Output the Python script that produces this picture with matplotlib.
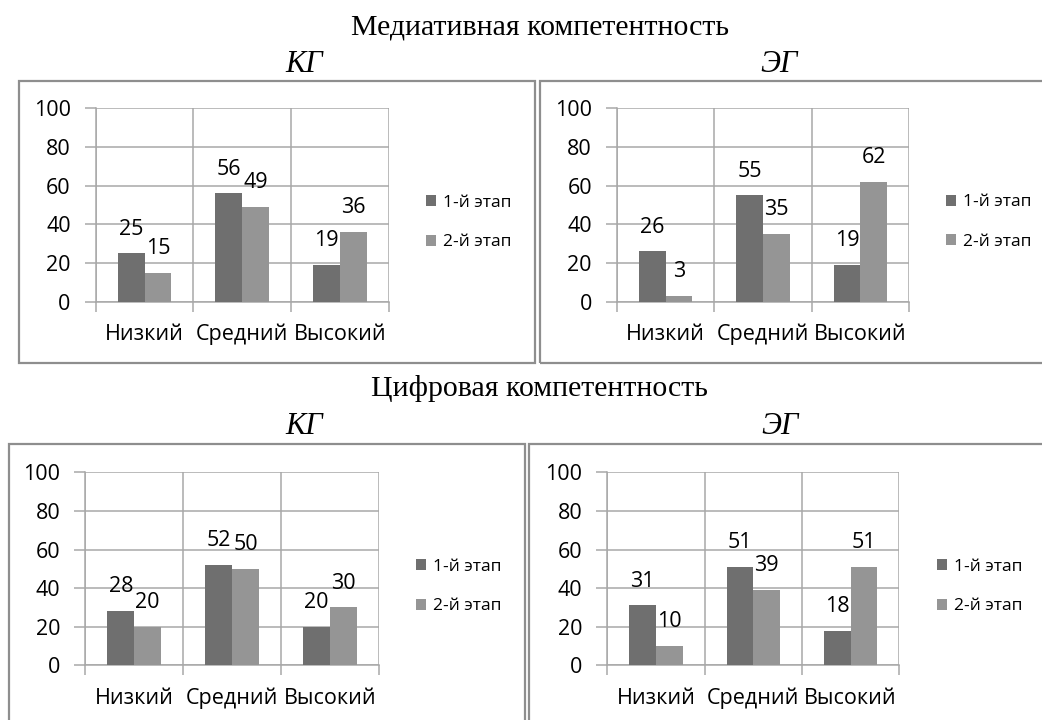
import matplotlib
matplotlib.use('Agg')
import matplotlib.pyplot as plt
from matplotlib.patches import Rectangle
import numpy as np

plt.rcParams['font.family'] = ['Open Sans', 'DejaVu Sans']

W, H = 1042, 720

categories = ['Низкий', 'Средний', 'Высокий']
series_names = ['1-й этап', '2-й этап']
y_ticks = [0, 20, 40, 60, 80, 100]

med_kg_stage1 = [25, 56, 19]
med_kg_stage2 = [15, 49, 36]
med_eg_stage1 = [26, 55, 19]
med_eg_stage2 = [3, 35, 62]
dig_kg_stage1 = [28, 52, 20]
dig_kg_stage2 = [20, 50, 30]
dig_eg_stage1 = [31, 51, 18]
dig_eg_stage2 = [10, 39, 51]

title_top = 'Медиативная компетентность'
title_bottom = 'Цифровая компетентность'
group_kg = 'КГ'
group_eg = 'ЭГ'

DARK = '#6f6f6f'
LIGHT = '#959595'
GRID = '#a8a8a8'
FRAME = '#8e8e8e'
FS = 15.5

fig = plt.figure(figsize=(W / 100, H / 100), dpi=100)
fig.patch.set_facecolor('white')


def fx(x):
    return x / W


def fy(y):
    return 1 - y / H


def frame(l, t, r, b):
    fig.patches.append(Rectangle((fx(l), fy(b)), fx(r) - fx(l), fy(t) - fy(b),
                                 transform=fig.transFigure, fill=False,
                                 edgecolor=FRAME, linewidth=1.6, clip_on=False))


def panel(box, legend_xy, s1, s2):
    l, r, t, b = box
    ax = fig.add_axes([fx(l), fy(b), fx(r) - fx(l), fy(t) - fy(b)])
    x = np.arange(len(categories))
    w = 0.275
    b1 = ax.bar(x - w / 2, s1, w, color=DARK, zorder=3)
    b2 = ax.bar(x + w / 2, s2, w, color=LIGHT, zorder=3)
    for bars, vals in ((b1, s1), (b2, s2)):
        for rect, v in zip(bars, vals):
            ax.annotate(str(v), (rect.get_x() + rect.get_width() / 2, v),
                        xytext=(0, 17.5), textcoords='offset points',
                        ha='center', va='center', fontsize=FS, color='black',
                        zorder=4)
    ax.set_xlim(-0.5, len(categories) - 0.5)
    ax.set_ylim(0, 100)
    ax.set_yticks(y_ticks)
    ax.set_xticks(np.arange(len(categories) + 1) - 0.5)
    ax.set_xticklabels([])
    ax.set_xticks(x, minor=True)
    ax.set_xticklabels(categories, minor=True)
    ax.tick_params(axis='x', which='major', length=7, width=1.1, color=GRID)
    ax.tick_params(axis='x', which='minor', length=0, pad=16.0, labelsize=FS)
    ax.tick_params(axis='y', length=8, width=1.1, color=GRID, pad=10,
                   labelsize=FS)
    ax.grid(True, which='major', color=GRID, linewidth=1.1, zorder=0)
    ax.set_axisbelow(True)
    for side in ('top', 'right'):
        ax.spines[side].set_visible(False)
    for side in ('left', 'bottom'):
        ax.spines[side].set_color(GRID)
        ax.spines[side].set_linewidth(1.1)
    ax.set_facecolor('white')
    lx, ly = legend_xy
    ax.legend([b1, b2], series_names, loc='center left',
              bbox_to_anchor=(fx(lx), fy(ly)), bbox_transform=fig.transFigure,
              frameon=False, fontsize=12.5, handlelength=0.6, handleheight=0.6,
              handletextpad=0.4, labelspacing=1.35, borderpad=0,
              borderaxespad=0)
    return ax


# frames
frame(19, 81, 535, 363)
frame(540, 81, 1060, 363)
frame(8.6, 444, 524.7, 740)
frame(529.3, 444, 1060, 740)

panel((95.7, 389, 108.3, 301.7), (426, 222.5), med_kg_stage1, med_kg_stage2)
panel((617, 909, 108.3, 301.7), (946, 222), med_eg_stage1, med_eg_stage2)
panel((85.4, 378.8, 472.3, 665.3), (416, 586.5), dig_kg_stage1, dig_kg_stage2)
panel((607.3, 899.3, 472.3, 665.3), (937, 586.5), dig_eg_stage1, dig_eg_stage2)

serif = ['Liberation Serif', 'DejaVu Serif']
fig.text(fx(540), fy(34), title_top, ha='center', va='baseline',
         fontsize=21.5, family=serif)
fig.text(fx(539), fy(396), title_bottom, ha='center', va='baseline',
         fontsize=21.5, family=serif)
for (xc, yb, txt) in ((304, 72, group_kg), (779, 72, group_eg),
                      (304, 434, group_kg), (780, 434, group_eg)):
    fig.text(fx(xc), fy(yb), txt, ha='center', va='baseline', fontsize=22,
             family=serif, style='italic')

fig.savefig('out.png', dpi=100, facecolor='white')
